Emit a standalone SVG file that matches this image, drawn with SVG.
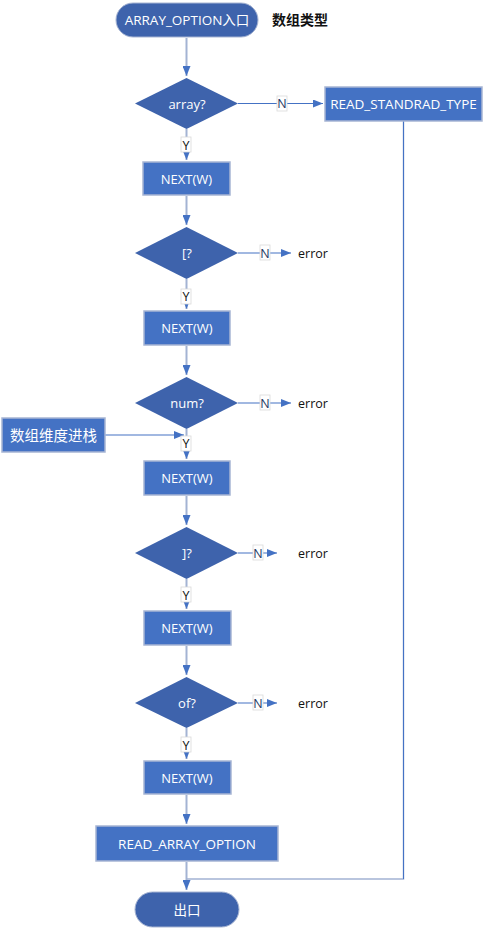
<svg xmlns="http://www.w3.org/2000/svg" width="484" height="930" viewBox="0 0 484 930">
<defs>
<marker id="ah" markerWidth="10" markerHeight="8" refX="10" refY="4" orient="auto" markerUnits="userSpaceOnUse">
<path d="M0,0 L10,4 L0,8 Z" fill="#4472C4"/>
</marker>
</defs>
<style>
text{font-family:"Segoe UI","Open Sans","Noto Sans","Noto Sans CJK SC",sans-serif;font-size:13px;dominant-baseline:central;text-anchor:middle}
.w{fill:#FFFFFF}
.k{fill:#111111}
.e{font-size:12.5px}
.term{fill:#3E63AC;stroke:#A7B5D3;stroke-width:1}
.dia{fill:#3E63AC}
.box{fill:#4472C4;stroke:#A7B5D3;stroke-width:1.5}
.c1{stroke:#A3B3D3;stroke-width:2;fill:none}
.c2{stroke:#4472C4;stroke-width:1.2;fill:none}
.lbl{fill:#FFFFFF;stroke:#D9D9D9;stroke-width:0.8}
.nl{fill:#1F3864;font-size:12.5px}
.yl{fill:#111111;font-size:12.5px}
</style>
<g id="connectors">
<line class="c1" x1="186.5" y1="38" x2="186.5" y2="76" marker-end="url(#ah)"/>
<line class="c2" x1="238" y1="103.5" x2="323" y2="103.5" marker-end="url(#ah)"/>
<line class="c1" x1="186.5" y1="129" x2="186.5" y2="160" marker-end="url(#ah)"/>
<line class="c1" x1="186.5" y1="196" x2="186.5" y2="225" marker-end="url(#ah)"/>
<line class="c2" x1="238" y1="253" x2="291" y2="253" marker-end="url(#ah)"/>
<line class="c1" x1="186.5" y1="279" x2="186.5" y2="309" marker-end="url(#ah)"/>
<line class="c1" x1="186.5" y1="346" x2="186.5" y2="375" marker-end="url(#ah)"/>
<line class="c2" x1="238" y1="403" x2="291" y2="403" marker-end="url(#ah)"/>
<line class="c1" x1="186.5" y1="429" x2="186.5" y2="459" marker-end="url(#ah)"/>
<line class="c2" x1="105" y1="435" x2="184" y2="435" marker-end="url(#ah)"/>
<line class="c1" x1="186.5" y1="496" x2="186.5" y2="525" marker-end="url(#ah)"/>
<line class="c2" x1="238" y1="553" x2="277" y2="553" marker-end="url(#ah)"/>
<line class="c1" x1="186.5" y1="579" x2="186.5" y2="609" marker-end="url(#ah)"/>
<line class="c1" x1="186.5" y1="646" x2="186.5" y2="675" marker-end="url(#ah)"/>
<line class="c2" x1="238" y1="703" x2="277" y2="703" marker-end="url(#ah)"/>
<line class="c1" x1="186.5" y1="728" x2="186.5" y2="759" marker-end="url(#ah)"/>
<line class="c1" x1="186.5" y1="795" x2="186.5" y2="824" marker-end="url(#ah)"/>
<line class="c1" x1="186.5" y1="862" x2="186.5" y2="890" marker-end="url(#ah)"/>
<polyline class="c1" points="403.5,121 403.5,879 186.5,879" style="stroke-width:1.5"/>
<polyline points="403.5,121 403.5,879" fill="none" stroke="#4472C4" stroke-width="1"/>
<rect class="lbl" x="277" y="96" width="10" height="15"/>
<text x="282" y="103.5" class="nl">N</text>
<rect class="lbl" x="181" y="137" width="10" height="15"/>
<text x="186" y="145" class="yl">Y</text>
<rect class="lbl" x="260" y="245" width="10" height="15"/>
<text x="265" y="253" class="nl">N</text>
<rect class="lbl" x="181" y="289" width="10" height="15"/>
<text x="186" y="296" class="yl">Y</text>
<rect class="lbl" x="260" y="395" width="10" height="15"/>
<text x="265" y="403" class="nl">N</text>
<rect class="lbl" x="181" y="436" width="10" height="15"/>
<text x="186" y="443" class="yl">Y</text>
<rect class="lbl" x="253" y="545" width="10" height="15"/>
<text x="258" y="553" class="nl">N</text>
<rect class="lbl" x="181" y="587" width="10" height="15"/>
<text x="186" y="595" class="yl">Y</text>
<rect class="lbl" x="253" y="695" width="10" height="15"/>
<text x="258" y="703" class="nl">N</text>
<rect class="lbl" x="181" y="737" width="10" height="15"/>
<text x="186" y="745" class="yl">Y</text>
</g>
<g id="start">
<rect class="term" x="116" y="3" width="142" height="34" rx="17"/>
<text x="187" y="20" class="w" style="font-size:13.5px">ARRAY_OPTION入口</text>
</g>
<g id="title"><text x="300" y="19" class="k" style="font-weight:bold;font-size:14px">数组类型</text></g>
<g id="d_array">
<polygon class="dia" points="186.5,78 238,103.5 186.5,129 135,103.5"/>
<text x="187" y="103.5" class="w">array?</text>
</g>
<g id="read_std">
<rect class="box" x="325" y="87" width="157" height="34"/>
<text x="403.5" y="104" class="w" style="font-size:13.5px">READ_STANDRAD_TYPE</text>
</g>
<g id="next1">
<rect class="box" x="143" y="162" width="87" height="33"/>
<text x="186.5" y="178.5" class="w">NEXT(W)</text>
</g>
<g id="d_lbr">
<polygon class="dia" points="186.5,227 238,253 186.5,279 135,253"/>
<text x="187" y="253" class="w">[?</text>
</g>
<g id="err1"><text x="313" y="253" class="k e">error</text></g>
<g id="next2">
<rect class="box" x="144" y="311" width="86" height="34"/>
<text x="187" y="328" class="w">NEXT(W)</text>
</g>
<g id="d_num">
<polygon class="dia" points="186.5,377 238,403 186.5,429 135,403"/>
<text x="187" y="403" class="w">num?</text>
</g>
<g id="err2"><text x="313" y="403" class="k e">error</text></g>
<g id="push">
<rect class="box" x="2" y="418" width="103" height="34"/>
<text x="53.5" y="435" class="w" style="font-size:14.5px">数组维度进栈</text>
</g>
<g id="next3">
<rect class="box" x="144" y="461" width="86" height="34"/>
<text x="187" y="478" class="w">NEXT(W)</text>
</g>
<g id="d_rbr">
<polygon class="dia" points="186.5,527 238,553 186.5,579 135,553"/>
<text x="187" y="553" class="w">]?</text>
</g>
<g id="err3"><text x="313" y="553" class="k e">error</text></g>
<g id="next4">
<rect class="box" x="144" y="611" width="87" height="34"/>
<text x="187" y="628" class="w">NEXT(W)</text>
</g>
<g id="d_of">
<polygon class="dia" points="186.5,677 238,703 186.5,728 135,703"/>
<text x="187" y="703" class="w">of?</text>
</g>
<g id="err4"><text x="313" y="703" class="k e">error</text></g>
<g id="next5">
<rect class="box" x="144" y="761" width="87" height="33"/>
<text x="187" y="777.5" class="w">NEXT(W)</text>
</g>
<g id="read_arr">
<rect class="box" x="96" y="826" width="182" height="35"/>
<text x="187" y="843.5" class="w" style="font-size:13.5px">READ_ARRAY_OPTION</text>
</g>
<g id="exit">
<rect class="term" x="135" y="892" width="104" height="35" rx="17.5"/>
<text x="187" y="909.5" class="w" style="font-size:13.5px">出口</text>
</g>
</svg>
